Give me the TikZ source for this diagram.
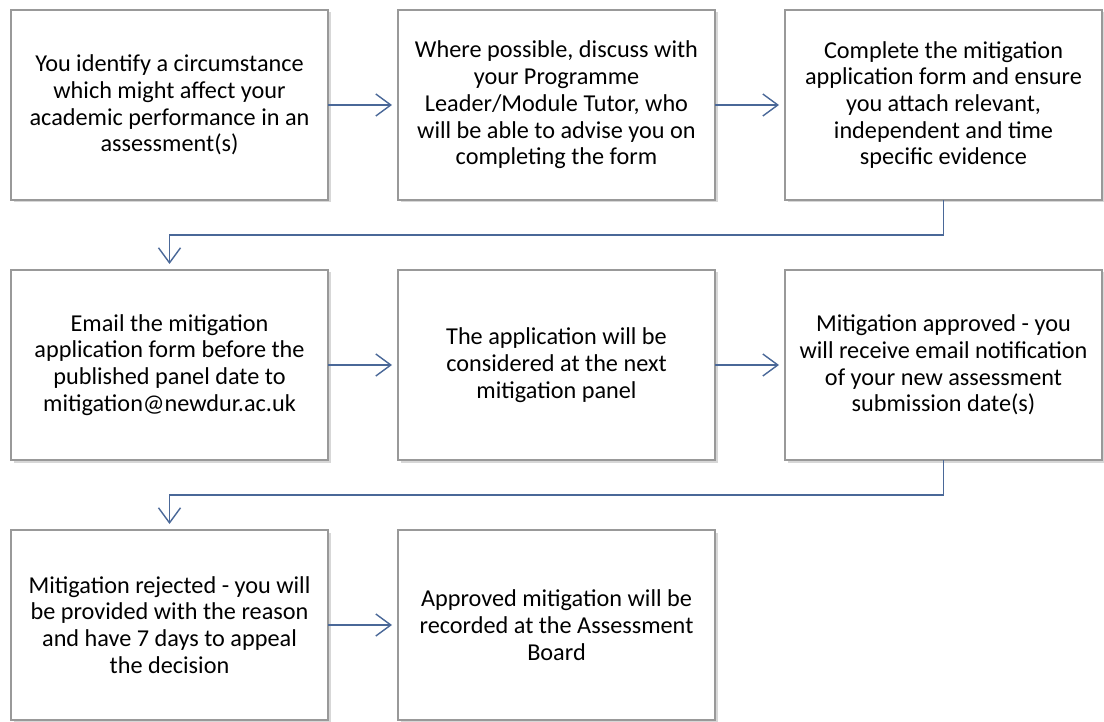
\documentclass[tikz,border=0pt]{standalone}
\usepackage{fontspec}
\setmainfont{Carlito}
\usepackage{tikz}
\usetikzlibrary{positioning, arrows.meta, shadows}
\definecolor{arrblue}{HTML}{4A6898}
\tikzset{stepnode/.style={draw=black!40, line width=0.6pt, fill=white, minimum width=6.34cm, minimum height=3.8cm, inner sep=0pt, outer sep=0pt, align=center, font=\fontsize{13.8}{15.2}\selectfont, drop shadow={shadow xshift=0.05cm, shadow yshift=-0.05cm, fill=black!45, opacity=0.35}}}
\tikzset{arr/.style={draw=arrblue, line width=0.8pt, -{Straight Barb[length=0.3cm, width=0.44cm, line width=0.8pt]}, shorten >=0.12cm}}

\begin{document}
\begin{tikzpicture}
    \useasboundingbox (0,0) rectangle (22.08,-14.44);
    \node[stepnode] (identify) at (3.39,-2.1)
        {You identify a circumstance\\ which might affect your\\ academic performance in an\\ assessment(s)};
    \node[stepnode, right=1.4cm of identify] (discuss)
        {Where possible, discuss with\\ your Programme\\ Leader/Module Tutor, who\\ will be able to advise you on\\ completing the form};
    \node[stepnode, right=1.4cm of discuss] (complete)
        {Complete the mitigation\\ application form and ensure\\ you attach relevant,\\ independent and time\\ specific evidence};
    \node[stepnode, below=1.4cm of identify] (email)
        {Email the mitigation\\ application form before the\\ published panel date to\\ mitigation@newdur.ac.uk};
    \node[stepnode, right=1.4cm of email] (panel)
        {The application will be\\ considered at the next\\ mitigation panel};
    \node[stepnode, right=1.4cm of panel] (approved)
        {Mitigation approved - you\\ will receive email notification\\ of your new assessment\\ submission date(s)};
    \node[stepnode, below=1.4cm of email] (rejected)
        {Mitigation rejected - you will\\ be provided with the reason\\ and have 7 days to appeal\\ the decision};
    \node[stepnode, right=1.4cm of rejected] (recorded)
        {Approved mitigation will be\\ recorded at the Assessment\\ Board};

    \draw[arr] (identify) -- (discuss);
    \draw[arr] (discuss) -- (complete);
    \draw[arr] (complete.south) -- ++(0,-0.7) -| (email.north);
    \draw[arr] (email) -- (panel);
    \draw[arr] (panel) -- (approved);
    \draw[arr] (approved.south) -- ++(0,-0.7) -| (rejected.north);
    \draw[arr] (rejected) -- (recorded);
\end{tikzpicture}
\end{document}
